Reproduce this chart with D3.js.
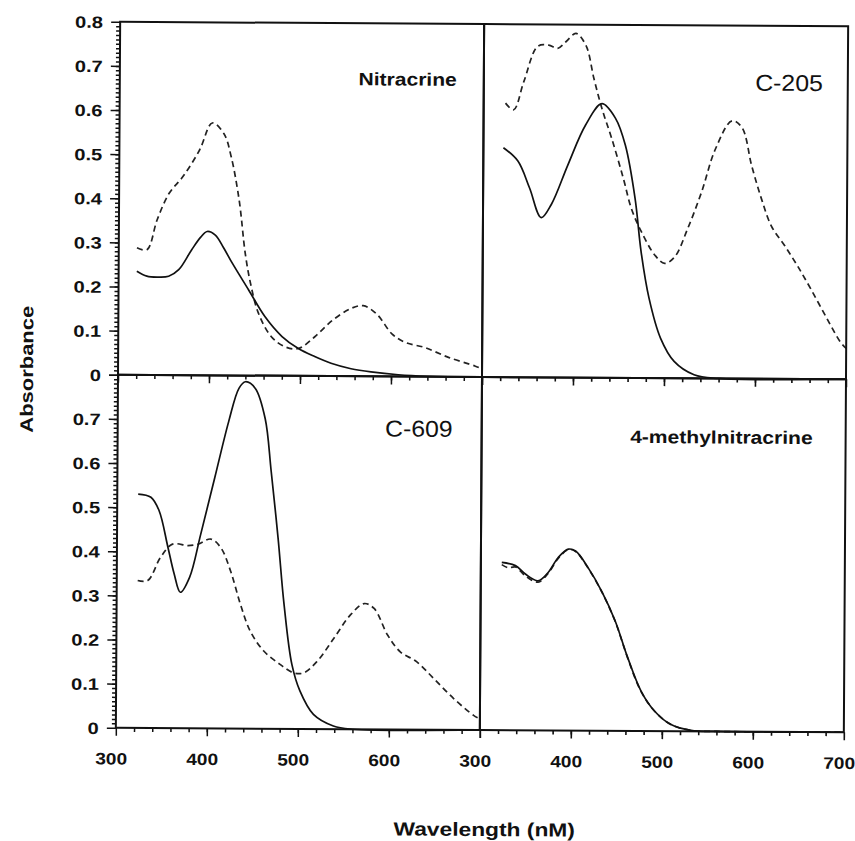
<!DOCTYPE html>
<html>
<head>
<meta charset="utf-8">
<script src="https://cdn.jsdelivr.net/npm/d3@7"></script>
<style>
  body { margin: 0; background: #fff; }
  svg { display: block; }
  text { font-family: "Liberation Sans", Arial, sans-serif; fill: #111; }
</style>
</head>
<body>
<svg id="chart" width="855" height="841"></svg>
<script>
// absorbance spectra, wavelength in nm
const nitSolidWl  = [320, 331, 343, 355, 366, 380, 390, 397, 406, 415, 425, 443, 461, 480, 498, 516, 534, 556, 578, 608, 640, 700];
const nitSolidAbs = [0.235, 0.224, 0.222, 0.224, 0.239, 0.284, 0.313, 0.326, 0.318, 0.29, 0.254, 0.194, 0.134, 0.089, 0.062, 0.044, 0.029, 0.017, 0.01, 0.004, 0.001, 0];
const nitDashWl   = [320, 331, 342, 355, 370, 388, 402, 415, 423, 432, 439, 445, 454, 468, 483, 498, 516, 535, 555, 569, 584, 601, 616, 637, 663, 692, 700];
const nitDashAbs  = [0.288, 0.284, 0.352, 0.412, 0.45, 0.51, 0.572, 0.547, 0.495, 0.397, 0.277, 0.209, 0.141, 0.089, 0.066, 0.062, 0.089, 0.126, 0.153, 0.16, 0.141, 0.096, 0.077, 0.066, 0.044, 0.025, 0.018];

const c205SolidWl  = [322, 338, 351, 364, 375, 393, 412, 430, 445, 456, 467, 474, 483, 496, 511, 533, 560, 700];
const c205SolidAbs = [0.52, 0.49, 0.429, 0.362, 0.392, 0.482, 0.572, 0.621, 0.588, 0.527, 0.407, 0.286, 0.181, 0.09, 0.038, 0.008, 0, 0];
const c205DashWl   = [324, 333, 344, 359, 371, 381, 390, 401, 412, 421, 430, 441, 454, 463, 474, 489, 500, 511, 525, 540, 555, 573, 584, 595, 606, 617, 632, 646, 661, 679, 694, 700];
const c205DashAbs  = [0.621, 0.606, 0.67, 0.75, 0.753, 0.746, 0.761, 0.78, 0.753, 0.678, 0.61, 0.542, 0.452, 0.384, 0.332, 0.279, 0.26, 0.275, 0.339, 0.422, 0.52, 0.584, 0.569, 0.482, 0.407, 0.346, 0.301, 0.256, 0.203, 0.136, 0.083, 0.07];

const c609SolidWl  = [323, 337, 346, 356, 363, 370, 380, 392, 407, 422, 433, 440, 451, 462, 469, 477, 484, 493, 502, 517, 539, 560, 700];
const c609SolidAbs = [0.53, 0.523, 0.493, 0.41, 0.35, 0.308, 0.342, 0.44, 0.568, 0.696, 0.771, 0.786, 0.771, 0.703, 0.583, 0.432, 0.282, 0.146, 0.086, 0.033, 0.007, 0, 0];
const c609DashWl   = [323, 334, 348, 361, 378, 389, 403, 414, 425, 436, 447, 462, 480, 495, 506, 521, 539, 557, 572, 583, 598, 612, 630, 649, 671, 693, 700];
const c609DashAbs  = [0.334, 0.334, 0.387, 0.417, 0.414, 0.417, 0.429, 0.41, 0.357, 0.282, 0.221, 0.176, 0.146, 0.127, 0.127, 0.154, 0.206, 0.259, 0.285, 0.274, 0.214, 0.176, 0.154, 0.116, 0.071, 0.033, 0.025];

const meSolidWl  = [323, 338, 349, 363, 374, 385, 396, 404, 418, 433, 448, 462, 477, 492, 510, 532, 560, 700];
const meSolidAbs = [0.38, 0.373, 0.354, 0.339, 0.358, 0.392, 0.411, 0.407, 0.369, 0.316, 0.249, 0.166, 0.09, 0.045, 0.015, 0.002, 0, 0];
const meDashWl   = [323, 330, 338, 349, 363, 374, 385, 396, 404, 418, 433, 448, 462, 477, 492, 510, 532, 560, 700];
const meDashAbs  = [0.375, 0.368, 0.37, 0.35, 0.336, 0.356, 0.39, 0.41, 0.406, 0.368, 0.315, 0.248, 0.165, 0.089, 0.045, 0.015, 0.002, 0, 0];

const panelNames = ["Nitracrine", "C-205", "C-609", "4-methylnitracrine"];
const xMajorTicks = [300, 400, 500, 600, 700];
const xTickLabels = ["300", "400", "500", "600", "700"];
const yMajorTicks = [0, 0.1, 0.2, 0.3, 0.4, 0.5, 0.6, 0.7, 0.8];

// layout of the 2x2 grid (before the slight scan tilt)
const gridLeft = 118, gridTop = 24, panelW = 364, panelH = 353;
const tilt = 0.35;
const sx = 1.16; // the scanned lettering is wider than Arial

const svg = d3.select("#chart");
const fig = svg.append("g")
  .attr("transform", `rotate(${tilt}, 480, 377)`);

const zip = (wl, abs) => wl.map((w, i) => [w, abs[i]]);

const panels = [
  { name: panelNames[0], col: 0, row: 0, solid: zip(nitSolidWl, nitSolidAbs), dash: zip(nitDashWl, nitDashAbs), big: false, lx: 337, ly: 62 },
  { name: panelNames[1], col: 1, row: 0, solid: zip(c205SolidWl, c205SolidAbs), dash: zip(c205DashWl, c205DashAbs), big: true, lx: 339, ly: 65 },
  { name: panelNames[2], col: 0, row: 1, solid: zip(c609SolidWl, c609SolidAbs), dash: zip(c609DashWl, c609DashAbs), big: true, lx: 335, ly: 60 },
  { name: panelNames[3], col: 1, row: 1, solid: zip(meSolidWl, meSolidAbs), dash: zip(meDashWl, meDashAbs), big: false, lx: 331, ly: 65 }
];

panels.forEach(p => {
  let px = gridLeft + p.col * panelW;
  let py = gridTop + p.row * panelH;

  let x = d3.scaleLinear().domain([300, 700]).range([px, px + panelW]);
  let y = d3.scaleLinear().domain([0, 0.8]).range([py + panelH, py]);

  let g = fig.append("g");

  // curves
  let line = d3.line()
    .x(d => x(d[0]))
    .y(d => y(d[1]))
    .curve(d3.curveCatmullRom.alpha(0.5));

  g.append("path")
    .datum(p.dash)
    .attr("d", line)
    .attr("fill", "none")
    .attr("stroke", "#222")
    .attr("stroke-width", 1.7)
    .attr("stroke-dasharray", "6,4");

  g.append("path")
    .datum(p.solid)
    .attr("d", line)
    .attr("fill", "none")
    .attr("stroke", "#111")
    .attr("stroke-width", 1.7);

  // x ticks on every panel, pointing down
  let xMinor = g.append("g")
    .attr("transform", `translate(0,${py + panelH})`)
    .call(d3.axisBottom(x).tickValues(d3.range(320, 700, 20)).tickSize(4).tickFormat(""));
  xMinor.select(".domain").remove();

  let xMajor = g.append("g")
    .attr("transform", `translate(0,${py + panelH})`)
    .call(d3.axisBottom(x).tickValues(xMajorTicks).tickSize(8)
      .tickFormat((d, i) => (p.row === 1 && !(p.col === 0 && d === 700)) ? xTickLabels[i] : ""));
  xMajor.select(".domain").remove();
  xMajor.selectAll("text")
    .attr("y", 25)
    .attr("font-size", 16.5)
    .attr("font-weight", "bold")
    .attr("transform", `translate(-5,0) scale(${sx},1)`)
    .attr("x", 0);

  g.selectAll(".tick line").attr("stroke", "#111").attr("stroke-width", 1.6);

  // y axis on the left column only
  if (p.col === 0) {
    let yMinor = g.append("g")
      .attr("transform", `translate(${px},0)`)
      .call(d3.axisLeft(y).tickValues(d3.range(1, 80).map(k => k / 100)).tickSize(4).tickFormat(""));
    yMinor.select(".domain").remove();

    let yMajor = g.append("g")
      .attr("transform", `translate(${px},0)`)
      .call(d3.axisLeft(y).tickValues(yMajorTicks).tickSize(9)
        .tickFormat(d => (p.row === 1 && d === 0.8) ? "" : (d === 0 ? "0" : d3.format(".1f")(d))));
    yMajor.select(".domain").remove();
    yMajor.selectAll("text")
      .attr("x", -14)
      .attr("dy", "0.35em")
      .attr("font-size", 16.5)
      .attr("font-weight", "bold")
      .attr("transform", `scale(${sx + 0.06},1)`);

    g.selectAll(".tick line").attr("stroke", "#111").attr("stroke-width", 1.5);
  }

  // panel frame
  g.append("rect")
    .attr("x", px)
    .attr("y", py)
    .attr("width", panelW)
    .attr("height", panelH)
    .attr("fill", "none")
    .attr("stroke", "#111")
    .attr("stroke-width", 2);

  // compound name
  g.append("text")
    .attr("transform", `translate(${px + p.lx},${py + p.ly}) scale(${p.big ? 1.08 : 1.17},1)`)
    .attr("text-anchor", "end")
    .attr("font-size", p.big ? 23 : 18)
    .attr("font-weight", p.big ? "normal" : "bold")
    .text(p.name);
});

// axis titles
fig.append("text")
  .attr("transform", `translate(33,372) rotate(-90) scale(1.22,1)`)
  .attr("text-anchor", "middle")
  .attr("font-size", 18)
  .attr("font-weight", "bold")
  .text("Absorbance");

fig.append("text")
  .attr("transform", `translate(487,836) scale(1.2,1)`)
  .attr("text-anchor", "middle")
  .attr("font-size", 19)
  .attr("font-weight", "bold")
  .text("Wavelength (nM)");
</script>
</body>
</html>
